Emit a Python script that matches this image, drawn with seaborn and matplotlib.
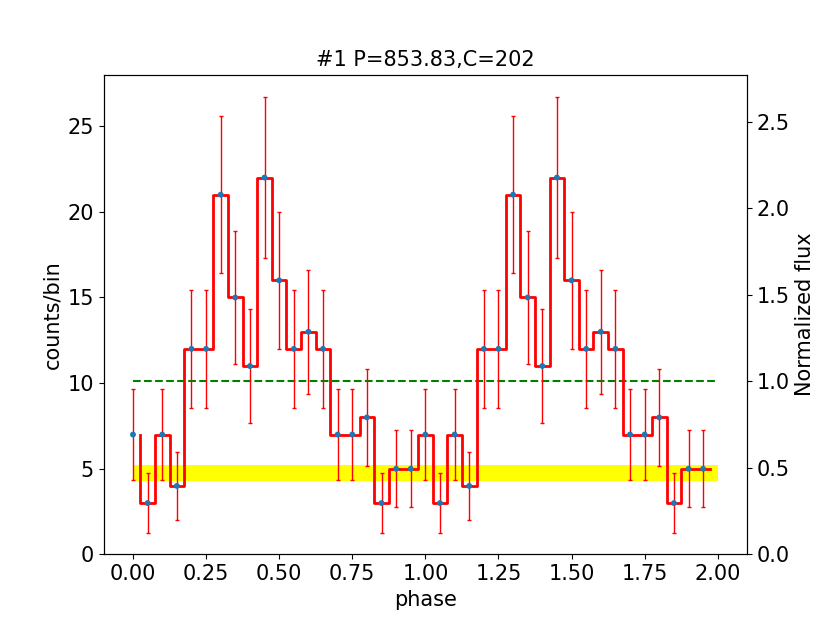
import numpy as np
import seaborn as sns
import matplotlib.pyplot as plt

# folded light curve, 20 bins per cycle shown twice
phase = [0.00, 0.05, 0.10, 0.15, 0.20, 0.25, 0.30, 0.35, 0.40, 0.45,
         0.50, 0.55, 0.60, 0.65, 0.70, 0.75, 0.80, 0.85, 0.90, 0.95,
         1.00, 1.05, 1.10, 1.15, 1.20, 1.25, 1.30, 1.35, 1.40, 1.45,
         1.50, 1.55, 1.60, 1.65, 1.70, 1.75, 1.80, 1.85, 1.90, 1.95]
counts = [7, 3, 7, 4, 12, 12, 21, 15, 11, 22, 16, 12, 13, 12, 7, 7, 8, 3, 5, 5,
          7, 3, 7, 4, 12, 12, 21, 15, 11, 22, 16, 12, 13, 12, 7, 7, 8, 3, 5, 5]
mean_level = 10.1
bkg_low, bkg_high = 4.27, 5.25
phase_range = [0.0, 2.0]

err = np.sqrt(counts)
half_bin = (phase[1] - phase[0]) / 2
step_x = np.array(phase) + half_bin

fig, ax = plt.subplots(figsize=(8.3, 6.23), dpi=100)

ax.fill_between(phase_range, bkg_low, bkg_high, color='yellow', lw=0, zorder=1)
ax.plot(phase_range, [mean_level, mean_level], '--', color='green', lw=1.5, zorder=2)
sns.lineplot(x=step_x, y=counts, drawstyle='steps-pre', color='red', lw=2, ax=ax, zorder=3)
ax.errorbar(phase, counts, yerr=err, fmt='none', ecolor='red', elinewidth=1,
            capsize=1.5, zorder=4)
sns.scatterplot(x=phase, y=counts, color='C0', s=18, edgecolor='none', ax=ax, zorder=5)

ax.set_xlim(-0.1, 2.1)
ax.set_ylim(0, 28.0)
ax.set_xticks([0.0, 0.25, 0.5, 0.75, 1.0, 1.25, 1.5, 1.75, 2.0])
ax.set_xticklabels(['0.00', '0.25', '0.50', '0.75', '1.00', '1.25', '1.50', '1.75', '2.00'])
ax.set_xlabel('phase', fontsize=15)
ax.set_ylabel('counts/bin', fontsize=15)
ax.set_title('#1 P=853.83,C=202', fontsize=15)
ax.tick_params(labelsize=15)

ax2 = ax.twinx()
ax2.set_ylim(0, 28.0 / mean_level)
ax2.set_ylabel('Normalized flux', fontsize=15)
ax2.tick_params(labelsize=15)

plt.savefig('out.png')
